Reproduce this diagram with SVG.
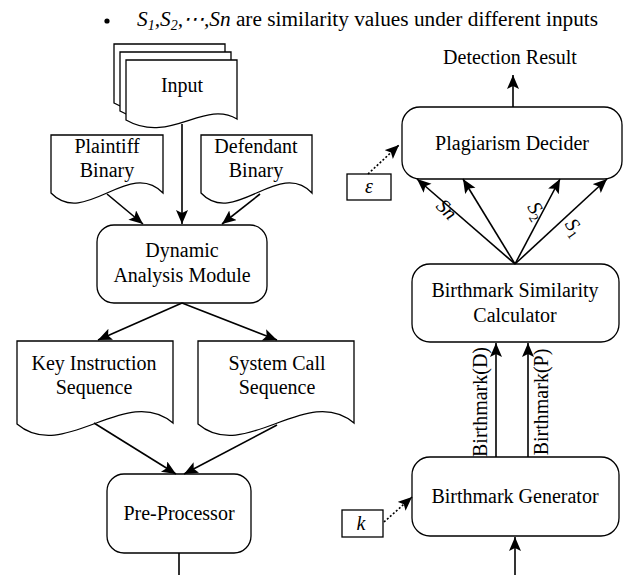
<svg xmlns="http://www.w3.org/2000/svg" width="629" height="575" viewBox="0 0 629 575">
<style>
text{font-family:"Liberation Serif","Times New Roman",serif;font-size:20px;fill:#000}
.c{text-anchor:middle}
.n{fill:#fff;stroke:#000;stroke-width:1.3}
.e{fill:none;stroke:#000;stroke-width:1.6}
.d{fill:none;stroke:#000;stroke-width:1.6;stroke-dasharray:2 2}
</style>
<defs>
<marker id="a" markerUnits="userSpaceOnUse" markerWidth="15" markerHeight="13" refX="14" refY="6" orient="auto">
<path d="M0,0 L14,6 L0,12 L3,6 z" fill="#000"/>
</marker>
</defs>
<rect width="629" height="575" fill="#fff"/>
<g id="note">
<circle cx="107" cy="21" r="2.6" fill="#000"/>
<text x="137" y="26" style="font-size:21.3px"><tspan font-style="italic">S</tspan><tspan font-style="italic" font-size="14" dy="4">1</tspan><tspan font-style="italic" dy="-4">,S</tspan><tspan font-style="italic" font-size="14" dy="4">2</tspan><tspan font-style="italic" dy="-4">,⋯,Sn</tspan> are similarity values under different inputs</text>
</g>
<g id="input">
<path class="n" d="M114,44 H225 V102 C192,82 158,128 114,103 Z"/>
<path class="n" d="M120,52 H231 V110 C198,90 164,136 120,111 Z"/>
<path class="n" d="M126,60 H237 V119 C204,99 170,145 126,120 Z"/>
<text class="c" x="182" y="92">Input</text>
</g>
<g id="plaintiff">
<path class="n" d="M51,135 H163 V193 C129,158 85,228 51,193 Z"/>
<text class="c" x="107" y="153">Plaintiff</text>
<text class="c" x="107" y="177">Binary</text>
</g>
<g id="defendant">
<path class="n" d="M201,135 H312 V193 C279,158 234,228 201,193 Z"/>
<text class="c" x="256" y="153">Defendant</text>
<text class="c" x="256" y="177">Binary</text>
</g>
<g id="dam">
<rect class="n" x="97" y="225" width="170" height="78" rx="17"/>
<text class="c" x="182" y="257">Dynamic</text>
<text class="c" x="182" y="282">Analysis Module</text>
</g>
<g id="keyseq">
<path class="n" d="M17,341 H173 V423 C126,383 64,464 17,424 Z"/>
<text class="c" x="94" y="370">Key Instruction</text>
<text class="c" x="94" y="394">Sequence</text>
</g>
<g id="sysseq">
<path class="n" d="M198,341 H354 V423 C307,383 245,464 198,424 Z"/>
<text class="c" x="277" y="370">System Call</text>
<text class="c" x="277" y="394">Sequence</text>
</g>
<g id="preproc">
<rect class="n" x="107" y="474" width="144" height="79" rx="17"/>
<text class="c" x="179" y="520">Pre-Processor</text>
</g>
<g id="detection">
<text class="c" x="510" y="64">Detection Result</text>
</g>
<g id="decider">
<rect class="n" x="402" y="107" width="220" height="72" rx="18"/>
<text class="c" x="512" y="150">Plagiarism Decider</text>
</g>
<g id="epsilon">
<rect class="n" x="347" y="174" width="44" height="26"/>
<text class="c" x="369" y="193" font-style="italic">ε</text>
</g>
<g id="calculator">
<rect class="n" x="412" y="264" width="207" height="78" rx="18"/>
<text class="c" x="515" y="297">Birthmark Similarity</text>
<text class="c" x="515" y="322">Calculator</text>
</g>
<g id="generator">
<rect class="n" x="412" y="457" width="207" height="79" rx="18"/>
<text class="c" x="515" y="503">Birthmark Generator</text>
</g>
<g id="kbox">
<rect class="n" x="342" y="510" width="41" height="27"/>
<text class="c" x="361" y="530" font-style="italic">k</text>
</g>
<g id="connectors">
<line class="e" x1="182" y1="124" x2="182" y2="224" marker-end="url(#a)"/>
<line class="e" x1="107" y1="194" x2="143" y2="224" marker-end="url(#a)"/>
<line class="e" x1="260" y1="194" x2="222" y2="224" marker-end="url(#a)"/>
<line class="e" x1="182" y1="303" x2="98" y2="340" marker-end="url(#a)"/>
<line class="e" x1="182" y1="303" x2="277" y2="340" marker-end="url(#a)"/>
<line class="e" x1="94" y1="423" x2="176" y2="474" marker-end="url(#a)"/>
<line class="e" x1="277" y1="425" x2="184" y2="474" marker-end="url(#a)"/>
<line class="e" x1="179" y1="553" x2="179" y2="575"/>
<line class="e" x1="513" y1="107" x2="513" y2="75" marker-end="url(#a)"/>
<line class="e" x1="515" y1="264" x2="417" y2="179" marker-end="url(#a)"/>
<line class="e" x1="515" y1="264" x2="463" y2="179" marker-end="url(#a)"/>
<line class="e" x1="515" y1="264" x2="560" y2="179" marker-end="url(#a)"/>
<line class="e" x1="515" y1="264" x2="607" y2="179" marker-end="url(#a)"/>
<line class="d" x1="368" y1="174" x2="399" y2="145" marker-end="url(#a)"/>
<line class="d" x1="384" y1="522" x2="412" y2="497" marker-end="url(#a)"/>
<line class="e" x1="496" y1="457" x2="496" y2="343" marker-end="url(#a)"/>
<line class="e" x1="528" y1="457" x2="528" y2="343" marker-end="url(#a)"/>
<line class="e" x1="515" y1="575" x2="515" y2="537" marker-end="url(#a)"/>
<text class="c" transform="translate(442,214) rotate(45)" font-style="italic">Sn</text>
<text class="c" transform="translate(531,214) rotate(58)"><tspan font-style="italic">S</tspan><tspan font-size="13" dy="4">2</tspan></text>
<text class="c" transform="translate(569,231) rotate(55)"><tspan font-style="italic">S</tspan><tspan font-size="13" dy="4">1</tspan></text>
<text class="c" transform="translate(487,402) rotate(-90)">Birthmark(D)</text>
<text class="c" transform="translate(548,402) rotate(-90)">Birthmark(P)</text>
</g>
</svg>
